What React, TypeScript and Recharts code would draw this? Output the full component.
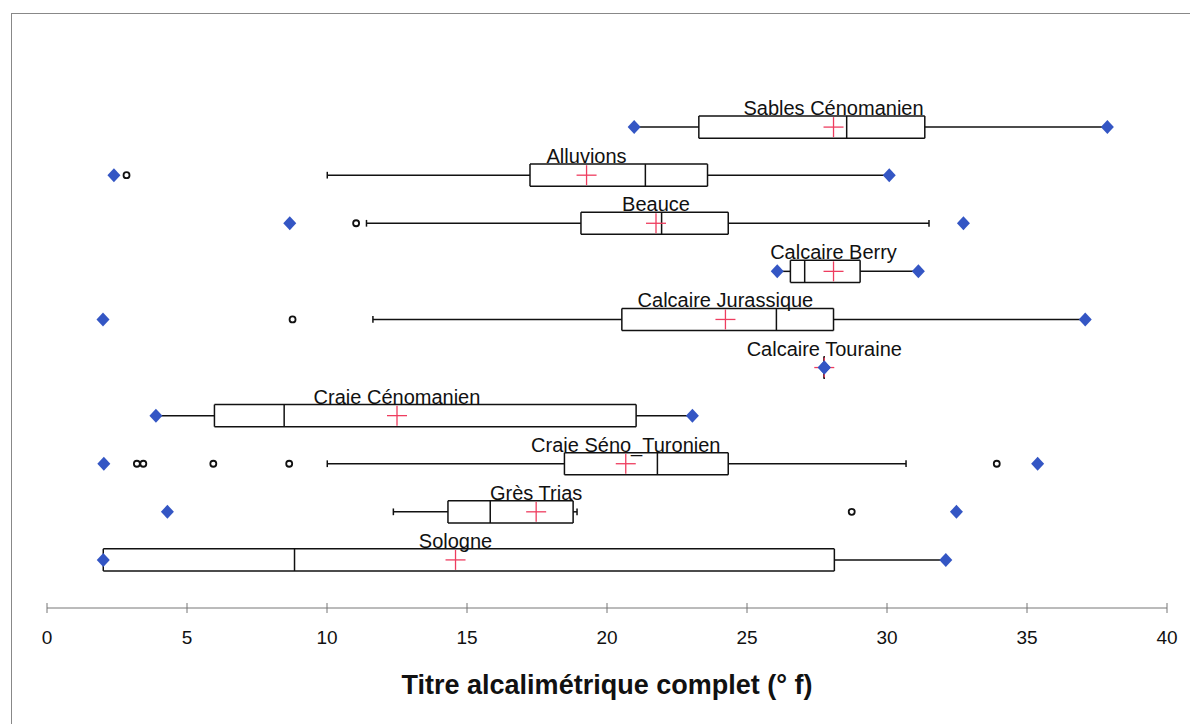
import { ScatterChart, Scatter, XAxis, YAxis, ReferenceLine } from 'recharts'

const groups = [
  'Sables Cénomanien',
  'Alluvions',
  'Beauce',
  'Calcaire Berry',
  'Calcaire Jurassique',
  'Calcaire Touraine',
  'Craie Cénomanien',
  'Craie Séno_Turonien',
  'Grès Trias',
  'Sologne',
]

const minimum = [20.97, 2.39, 8.67, 26.08, 2.0, 27.76, 3.89, 2.03, 4.3, 2.01]
const whiskerLow = [20.97, 10.01, 11.41, 26.08, 11.64, 27.76, 3.89, 10.01, 12.37, 2.01]
const q1 = [23.28, 17.25, 19.07, 26.55, 20.53, 27.76, 5.98, 18.48, 14.32, 2.01]
const median = [28.56, 21.37, 21.95, 27.06, 26.05, 27.76, 8.47, 21.8, 15.83, 8.84]
const mean = [28.09, 19.27, 21.75, 28.09, 24.23, 27.76, 12.5, 20.67, 17.47, 14.59]
const q3 = [31.35, 23.59, 24.33, 29.04, 28.09, 27.76, 21.04, 24.33, 18.79, 28.12]
const whiskerHigh = [37.87, 30.08, 31.5, 31.12, 37.08, 27.76, 23.05, 30.68, 18.93, 32.1]
const maximum = [37.87, 30.08, 32.73, 31.12, 37.08, 27.76, 23.05, 35.38, 32.48, 32.1]
const outliers = [
  [],
  [2.84],
  [11.04],
  [],
  [8.77],
  [],
  [],
  [3.21, 3.44, 5.94, 8.65, 33.92],
  [28.74],
  [],
]

const xTicks = [0, 5, 10, 15, 20, 25, 30, 35, 40]

const FONT = '"Liberation Sans", Arial, sans-serif'
const BOX_H = 0.23
const CAP_H = 0.07

const pos = groups.map((_, i) => groups.length - i)

type Seg = [{ x: number; y: number }, { x: number; y: number }]
const segments: Seg[] = []
groups.forEach((_, i) => {
  const p = pos[i]
  const lo = p - BOX_H
  const hi = p + BOX_H
  segments.push([{ x: q1[i], y: lo }, { x: q1[i], y: hi }])
  segments.push([{ x: q3[i], y: lo }, { x: q3[i], y: hi }])
  segments.push([{ x: q1[i], y: hi }, { x: q3[i], y: hi }])
  segments.push([{ x: q1[i], y: lo }, { x: q3[i], y: lo }])
  segments.push([{ x: median[i], y: lo }, { x: median[i], y: hi }])
  if (whiskerLow[i] < q1[i]) segments.push([{ x: whiskerLow[i], y: p }, { x: q1[i], y: p }])
  if (whiskerHigh[i] > q3[i]) segments.push([{ x: q3[i], y: p }, { x: whiskerHigh[i], y: p }])
  if (whiskerLow[i] !== minimum[i]) segments.push([{ x: whiskerLow[i], y: p - CAP_H }, { x: whiskerLow[i], y: p + CAP_H }])
  if (whiskerHigh[i] !== maximum[i]) segments.push([{ x: whiskerHigh[i], y: p - CAP_H }, { x: whiskerHigh[i], y: p + CAP_H }])
})

const meanData = groups.map((g, i) => ({ x: mean[i], y: pos[i], name: g }))
const extremeData = groups.flatMap((_, i) => [
  { x: minimum[i], y: pos[i] },
  { x: maximum[i], y: pos[i] },
])
const outlierData = groups.flatMap((_, i) => outliers[i].map((v) => ({ x: v, y: pos[i] })))

const Cross = (props: any) => {
  const { cx, cy } = props
  return (
    <g>
      <line x1={cx - 10} x2={cx + 10} y1={cy} y2={cy} stroke="#ee3d5f" strokeWidth={1.3} />
      <line x1={cx} x2={cx} y1={cy - 10} y2={cy + 10} stroke="#ee3d5f" strokeWidth={1.3} />
    </g>
  )
}

const Diamond = (props: any) => {
  const { cx, cy } = props
  return <polygon points={`${cx},${cy - 7} ${cx + 6.5},${cy} ${cx},${cy + 7} ${cx - 6.5},${cy}`} fill="#3456c4" />
}

const Outlier = (props: any) => {
  const { cx, cy } = props
  return <circle cx={cx} cy={cy} r={3} fill="#fff" stroke="#111" strokeWidth={1.8} />
}

const GroupLabel = (props: any) => {
  const { cx, cy, payload } = props
  return (
    <text x={cx} y={cy - 12} textAnchor="middle" fontSize={20} fontFamily={FONT} fill="#111">
      {payload.name}
    </text>
  )
}

const AxisTick = (props: any) => {
  const { x, y, payload } = props
  return (
    <g>
      <line x1={x} x2={x} y1={y - 5} y2={y + 5} stroke="#777" />
      <text x={x} y={y + 36} textAnchor="middle" fontSize={19} fontFamily={FONT} fill="#111">
        {payload.value}
      </text>
    </g>
  )
}

export default function App() {
  return (
    <div style={{ position: 'absolute', left: 0, top: 0, width: 1190, height: 724, background: '#fff' }}>
      <div
        style={{
          position: 'absolute',
          left: 11,
          top: 13,
          width: 1190,
          height: 724,
          borderLeft: '1.5px solid #888',
          borderTop: '1.5px solid #888',
        }}
      />
      <div style={{ position: 'absolute', left: 0, top: 0 }}>
        <ScatterChart width={1190} height={724} margin={{ top: 79, right: 23, bottom: 26, left: 47 }}>
          <XAxis
            type="number"
            dataKey="x"
            domain={[0, 40]}
            ticks={xTicks}
            allowDataOverflow
            height={90}
            stroke="#777"
            tickSize={0}
            tickMargin={0}
            tickLine={false}
            tick={<AxisTick />}
            label={{
              value: 'Titre alcalimétrique complet (° f)',
              position: 'insideBottom',
              offset: 4,
              style: { fontSize: 27, fontWeight: 'bold', fontFamily: FONT, fill: '#111' },
            }}
          />
          <YAxis type="number" dataKey="y" domain={[0, 11]} hide width={0} />
          {segments.map((s, k) => (
            <ReferenceLine key={k} segment={s} stroke="#111" strokeWidth={1.5} ifOverflow="visible" />
          ))}
          <Scatter data={meanData} shape={<Cross />} isAnimationActive={false} />
          <Scatter data={extremeData} shape={<Diamond />} isAnimationActive={false} />
          <Scatter data={outlierData} shape={<Outlier />} isAnimationActive={false} />
          <Scatter data={meanData} shape={<GroupLabel />} isAnimationActive={false} />
        </ScatterChart>
      </div>
    </div>
  )
}
